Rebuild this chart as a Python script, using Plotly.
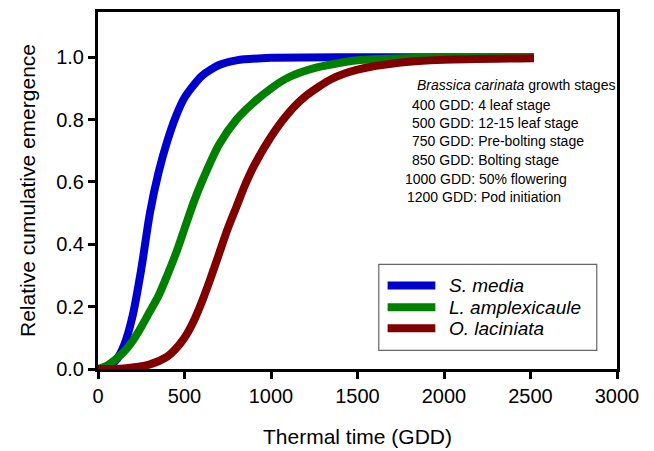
import plotly.graph_objects as go

# Cumulative emergence curves (thermal time in GDD, relative emergence 0-1)
x_s_media = [0, 50, 100, 150, 200, 250, 300, 350, 400, 450, 500, 600, 700, 800, 1000, 1500, 2520]
y_s_media = [0.0, 0.005, 0.025, 0.075, 0.17, 0.32, 0.50, 0.63, 0.73, 0.81, 0.87, 0.94, 0.975, 0.99, 0.998, 1.0, 1.0]

x_l_amplex = [0, 50, 100, 150, 200, 250, 300, 350, 400, 450, 500, 550, 600, 700, 800, 900, 1000,
              1100, 1250, 1500, 1800, 2520]
y_l_amplex = [0.0, 0.01, 0.03, 0.055, 0.09, 0.135, 0.185, 0.235, 0.30, 0.37, 0.45, 0.53, 0.60, 0.72,
              0.80, 0.855, 0.90, 0.935, 0.965, 0.99, 0.997, 1.0]

x_o_lacin = [0, 100, 200, 300, 400, 450, 500, 550, 600, 650, 700, 750, 800, 850, 900, 1000, 1100,
             1200, 1350, 1500, 1750, 2000, 2520]
y_o_lacin = [0.0, 0.0, 0.005, 0.015, 0.04, 0.065, 0.10, 0.15, 0.215, 0.29, 0.37, 0.45, 0.52, 0.59,
             0.65, 0.745, 0.82, 0.875, 0.93, 0.96, 0.983, 0.992, 0.997]

species = ["S. media", "L. amplexicaule", "O. laciniata"]
colors = ["#0000CC", "#008000", "#800000"]

stage_title = "<i>Brassica carinata</i> growth stages"
stage_lines = [
    "400 GDD: 4 leaf stage",
    "500 GDD: 12-15 leaf stage",
    "750 GDD: Pre-bolting stage",
    "850 GDD: Bolting stage",
    "1000 GDD: 50% flowering",
    "1200 GDD: Pod initiation",
]

x_ticks = [0, 500, 1000, 1500, 2000, 2500, 3000]
y_ticks = [0.0, 0.2, 0.4, 0.6, 0.8, 1.0]

FONT = "Arial, Liberation Sans, sans-serif"

fig = go.Figure()
series = [(x_s_media, y_s_media), (x_l_amplex, y_l_amplex), (x_o_lacin, y_o_lacin)]
for (xs, ys), name, col in zip(series, species, colors):
    fig.add_trace(go.Scatter(
        x=xs, y=ys, mode="lines", name=name,
        line=dict(color=col, width=8, shape="spline", smoothing=0.7),
        showlegend=False,
    ))

axis_common = dict(
    showline=True, linecolor="black", linewidth=3, mirror=True,
    ticks="outside", ticklen=7, tickwidth=2.5, tickcolor="black",
    showgrid=False, zeroline=False, automargin=False,
    tickfont=dict(family=FONT, size=20, color="black"),
)

fig.update_xaxes(
    range=[0, 3000], tickvals=x_ticks, ticktext=[str(v) for v in x_ticks],
    title=dict(text="Thermal time (GDD)", font=dict(family=FONT, size=21, color="black"), standoff=24),
    **axis_common,
)
fig.update_yaxes(
    range=[0, 1.145], tickvals=y_ticks, ticktext=[f"{v:.1f}" for v in y_ticks],
    title=dict(text="Relative cumulative emergence", font=dict(family=FONT, size=21, color="black"), standoff=15),
    **axis_common,
)

# Growth stage notes
annotations = [dict(
    x=0.611, y=0.795, xref="paper", yref="paper", text=stage_title, showarrow=False,
    xanchor="left", yanchor="middle", font=dict(family=FONT, size=14, color="black"),
)]
line_x = [0.601, 0.601, 0.601, 0.601, 0.588, 0.592]
line_y = [0.739, 0.689, 0.638, 0.585, 0.532, 0.481]
for txt, lx, ly in zip(stage_lines, line_x, line_y):
    annotations.append(dict(
        x=lx, y=ly, xref="paper", yref="paper", text=txt, showarrow=False,
        xanchor="left", yanchor="middle", font=dict(family=FONT, size=14, color="black"),
    ))

# Legend box drawn in paper space
shapes = [dict(type="rect", xref="paper", yref="paper", x0=0.541, x1=0.961, y0=0.052, y1=0.293,
               line=dict(color="#666666", width=1.2), fillcolor="white", layer="above")]
leg_y = [0.234, 0.173, 0.114]
for name, col, ly in zip(species, colors, leg_y):
    shapes.append(dict(type="line", xref="paper", yref="paper", x0=0.558, x1=0.650, y0=ly, y1=ly,
                       line=dict(color=col, width=8), layer="above"))
    annotations.append(dict(
        x=0.672, y=ly, xref="paper", yref="paper", text=f"<i>{name}</i>", showarrow=False,
        xanchor="left", yanchor="middle", font=dict(family=FONT, size=19, color="black"),
    ))

fig.update_layout(
    width=654, height=451,
    margin=dict(l=98, r=37, t=12, b=82),
    paper_bgcolor="white", plot_bgcolor="white",
    annotations=annotations, shapes=shapes,
)

fig.write_html("out.html")
